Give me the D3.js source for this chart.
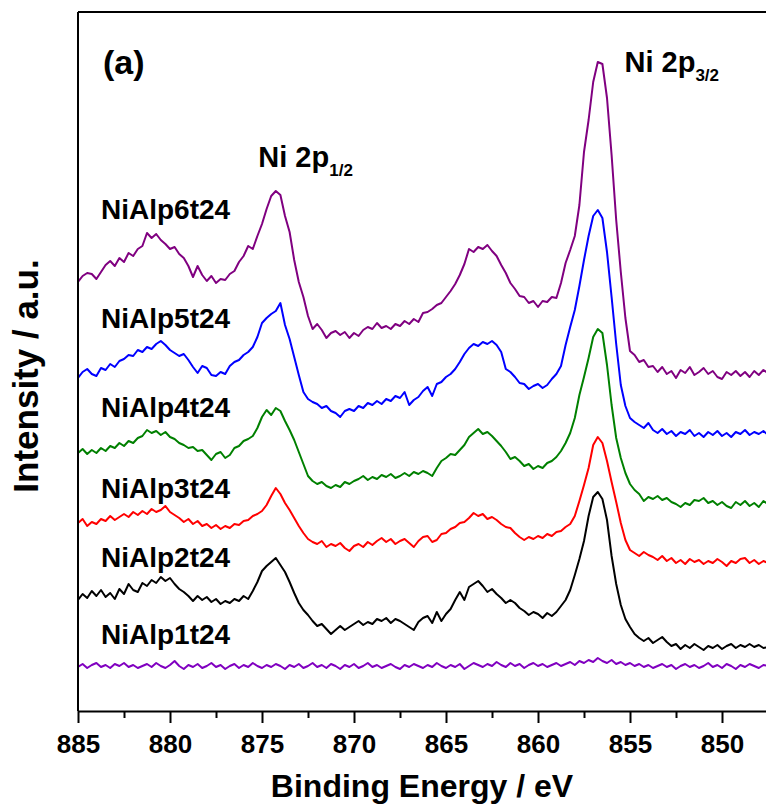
<!DOCTYPE html>
<html>
<head>
<meta charset="utf-8">
<script src="https://cdn.jsdelivr.net/npm/d3@7"></script>
<style>
  html, body { margin: 0; padding: 0; background: #fff; }
  svg { display: block; font-family: "Liberation Sans", Arial, sans-serif; }
</style>
</head>
<body>
<svg id="chart" width="766" height="807"></svg>
<script>
// ---- Data (Binding energy grid: 885 eV down to 847.5 eV, step 0.25 eV) ----
const energyStart = 885;
const energyStep = 0.25;

const seriesNames = ["NiAlp6t24", "NiAlp5t24", "NiAlp4t24", "NiAlp3t24", "NiAlp2t24", "NiAlp1t24"];
const seriesColors = ["#800080", "#0000ff", "#008000", "#ff0000", "#000000", "#8000c0"];

const p6 = [
  42.9,43.5,43.8,43.7,43.2,43.9,44.6,45.0,44.5,45.3,
  44.9,45.8,45.5,46.2,46.5,47.8,47.3,47.7,47.1,46.7,
  46.2,46.4,45.7,45.3,44.5,43.4,44.5,43.6,43.0,43.5,
  42.8,43.2,43.1,43.7,44.0,44.9,45.5,46.5,46.2,47.5,
  48.7,50.2,51.5,52.0,51.6,49.5,47.9,45.1,42.9,41.4,
  39.5,38.2,38.7,38.1,37.3,37.8,38.0,37.6,37.9,37.3,
  37.8,37.5,38.1,38.4,38.2,38.8,38.3,38.5,38.2,38.7,
  38.5,39.0,38.7,39.2,38.9,39.8,39.9,40.2,40.6,40.8,
  41.4,42.0,42.7,43.6,44.7,46.2,45.9,46.4,46.2,46.6,
  46.0,45.5,44.6,43.8,42.8,42.2,41.5,41.4,40.8,41.0,
  40.4,41.0,40.9,41.4,41.3,42.8,44.8,46.1,47.5,50.6,
  55.9,59.1,62.9,64.9,64.7,61.3,55.6,49.1,43.9,39.3,
  36.0,35.6,34.9,35.1,34.4,34.5,33.9,34.4,33.7,34.0,
  33.3,34.1,33.8,34.4,33.6,33.9,34.3,33.7,34.0,33.4,
  33.2,33.9,33.6,34.0,33.5,33.9,33.4,34.0,33.6,34.1,
  33.8
];
const p5 = [
  33.3,33.9,34.2,33.7,33.5,34.3,34.1,34.7,34.4,35.0,
  35.2,35.6,35.5,36.1,35.9,36.4,36.2,36.7,37.0,36.6,
  36.1,35.8,35.5,35.7,35.1,34.4,33.8,34.5,34.3,33.6,
  33.5,33.9,33.7,34.5,34.9,35.1,35.6,35.9,36.4,37.4,
  38.8,39.3,39.7,40.0,40.8,38.6,37.2,35.4,33.6,31.9,
  31.2,30.9,30.7,30.3,30.5,30.0,29.8,29.4,30.0,30.2,
  30.0,30.5,30.3,30.8,30.6,31.0,30.7,31.2,31.0,31.5,
  31.3,31.9,30.6,31.1,31.4,32.0,32.4,31.5,32.7,32.9,
  33.4,33.7,34.2,34.9,35.7,36.3,36.7,36.5,36.9,36.7,
  37.0,36.6,35.9,34.2,33.9,33.4,32.8,32.7,32.2,32.5,
  32.7,32.3,32.6,33.2,33.7,34.5,36.6,38.4,40.1,42.5,
  45.1,47.5,49.5,50.1,49.3,45.9,41.4,36.7,32.6,30.5,
  29.3,28.9,28.6,28.3,28.8,28.1,27.8,28.2,27.7,28.0,
  27.5,27.9,27.7,28.1,27.5,27.8,27.4,27.9,27.6,28.0,
  27.5,27.8,27.4,27.9,27.7,28.1,27.6,27.9,27.7,28.0,
  27.6
];
const p4 = [
  25.8,26.2,25.7,26.1,25.8,26.3,26.0,26.5,26.3,26.8,
  26.5,27.0,26.8,27.3,27.5,28.1,27.8,28.0,27.6,27.9,
  27.4,27.2,26.8,26.6,26.3,26.4,26.0,26.1,25.6,25.1,
  25.7,25.9,25.3,25.6,26.3,26.5,27.0,27.2,27.5,28.3,
  29.4,30.1,29.6,30.3,30.0,29.0,28.1,27.1,25.9,24.7,
  23.5,23.0,22.7,22.9,22.5,22.3,22.6,22.4,22.9,22.7,
  23.0,23.2,23.5,23.1,23.4,23.2,23.6,23.4,23.7,23.3,
  23.5,23.8,23.5,23.9,23.7,24.0,23.8,23.5,24.3,25.0,
  25.3,25.7,25.6,26.1,26.6,27.4,27.8,28.2,27.7,27.9,
  27.5,27.0,26.5,25.9,25.2,25.4,25.0,24.5,24.7,24.2,
  24.5,24.3,24.8,25.0,25.4,26.0,26.8,27.8,29.3,31.6,
  33.4,35.3,37.4,38.2,37.8,34.6,30.6,27.3,25.3,23.8,
  22.7,22.1,21.7,21.0,21.4,21.2,21.5,21.1,21.3,20.9,
  20.7,20.4,20.8,20.6,21.1,21.0,21.3,20.8,21.0,20.6,
  20.9,20.5,20.3,20.9,20.6,21.0,20.5,20.8,20.4,21.0,
  20.7
];
const p3 = [
  18.8,19.2,18.5,18.9,18.7,19.2,19.0,19.5,19.1,19.4,
  19.7,19.4,19.9,19.6,20.0,19.7,20.2,19.9,20.1,20.5,
  19.9,19.6,19.3,18.9,19.2,18.7,19.0,18.5,18.7,18.3,
  18.6,18.2,18.5,18.3,18.7,18.6,19.0,19.1,19.5,19.7,
  20.0,20.6,21.5,22.3,21.7,20.8,20.1,19.3,18.5,17.8,
  17.2,16.9,16.7,17.0,16.4,16.7,16.5,16.8,16.3,16.0,
  16.5,16.7,16.4,16.9,16.6,17.0,17.3,16.9,17.2,16.7,
  17.0,17.2,16.8,16.4,17.0,17.4,17.5,16.9,17.1,17.7,
  17.8,18.2,18.4,18.8,18.9,19.3,19.8,19.5,19.7,19.2,
  19.4,19.1,18.7,18.4,18.3,17.8,17.4,17.1,17.4,17.2,
  17.5,17.3,17.7,17.5,17.9,18.0,18.4,18.7,19.5,21.0,
  22.6,24.3,26.6,27.4,26.8,25.0,22.9,20.9,18.8,17.1,
  16.1,15.8,15.5,15.9,15.6,15.4,15.1,15.5,15.0,15.3,
  14.8,15.1,14.7,15.2,14.9,15.1,14.7,15.0,14.8,15.2,
  14.9,14.5,15.0,14.8,15.2,15.3,14.8,15.1,14.7,15.0,
  14.8
];
const p2 = [
  11.1,11.7,11.3,12.0,11.5,12.1,11.4,11.8,11.2,12.2,
  11.7,12.7,12.1,11.9,12.8,12.5,13.1,12.8,13.4,13.0,
  13.3,12.7,12.2,11.9,11.5,11.0,11.5,11.1,11.4,10.9,
  11.2,10.7,11.0,10.8,11.2,11.0,11.5,11.2,12.0,12.9,
  14.0,14.5,14.9,15.3,14.6,13.9,12.9,11.8,10.8,10.1,
  9.6,9.0,8.5,8.7,8.2,7.7,8.1,8.5,8.1,8.4,
  8.7,9.0,8.6,8.9,8.7,9.2,9.0,9.3,8.8,9.2,
  9.0,8.7,8.4,8.1,8.9,9.3,9.5,8.8,9.9,9.0,
  9.7,10.2,11.1,11.9,11.1,12.4,12.7,13.0,12.5,11.9,
  12.2,11.7,11.3,10.8,11.1,10.8,10.3,10.0,9.6,9.9,
  9.7,9.3,9.8,9.5,9.9,10.5,11.1,12.1,13.6,15.2,
  17.0,19.5,21.4,21.9,21.2,19.1,15.5,12.7,10.6,9.2,
  8.4,7.7,7.3,7.0,7.3,6.8,7.1,7.4,6.9,6.5,
  6.7,6.2,6.6,6.3,6.7,6.4,6.1,6.5,6.3,6.6,
  6.2,6.5,6.7,6.3,6.6,6.4,6.7,6.4,6.6,6.3,
  6.4
];
const p1 = [
  4.4,4.7,4.3,4.6,4.8,4.4,4.6,4.3,4.7,4.5,
  4.8,4.4,4.6,4.3,4.5,4.7,4.4,4.8,4.5,4.3,
  4.6,5.0,4.5,4.2,4.6,4.4,4.7,4.3,4.5,4.8,
  4.4,4.6,4.2,4.5,4.7,4.3,4.6,4.4,4.8,4.5,
  4.3,4.6,4.4,4.7,4.5,4.2,4.6,4.4,4.7,4.3,
  4.5,4.8,4.4,4.6,4.3,4.7,4.5,4.2,4.6,4.4,
  4.7,4.3,4.5,4.8,4.4,4.6,4.3,4.5,4.7,4.4,
  4.2,4.6,4.4,4.7,4.5,4.3,4.6,4.4,4.8,4.5,
  4.3,4.6,4.4,4.7,4.2,4.5,4.8,4.6,4.4,4.7,
  4.5,4.9,4.6,4.4,4.8,4.5,4.7,4.3,4.6,4.8,
  4.5,4.7,4.4,4.6,4.8,4.5,4.7,4.9,4.6,5.0,
  4.8,5.1,4.9,5.3,5.0,4.8,5.1,4.7,4.9,4.6,
  4.8,4.5,4.7,4.4,4.6,4.3,4.5,4.7,4.4,4.6,
  4.2,4.5,4.7,4.4,4.6,4.3,4.5,4.8,4.4,4.6,
  4.3,4.7,4.5,4.2,4.6,4.4,4.7,4.5,4.3,4.6,
  4.5
];
const seriesValues = [p6, p5, p4, p3, p2, p1];

const majorTicks = [885, 880, 875, 870, 865, 860, 855, 850];
const minorTicks = [882.5, 877.5, 872.5, 867.5, 862.5, 857.5, 852.5, 847.5];

// label anchors in data units (energy, intensity)
const labelEnergy = 883.75;
const labelIntensity = [49.2, 38.3, 29.4, 21.3, 14.4, 6.7];

// ---- Chart ----
(function () {
const svg = d3.select("#chart");
const mL = 78, mR = 768, mT = 12, mB = 711;

const x = d3.scaleLinear().domain([885, 847.5]).range([mL, mR]);
const y = d3.scaleLinear().domain([0, 69.9]).range([mB, mT]);

svg.append("defs").append("clipPath").attr("id", "plotclip")
  .append("rect").attr("x", mL).attr("y", mT).attr("width", mR - mL).attr("height", mB - mT);

const line = d3.line()
  .x((d, i) => x(energyStart - i * energyStep))
  .y(d => y(d));

const g = svg.append("g").attr("clip-path", "url(#plotclip)");
seriesValues.forEach((vals, k) => {
  g.append("path")
    .datum(vals)
    .attr("d", line)
    .attr("fill", "none")
    .attr("stroke", seriesColors[k])
    .attr("stroke-width", 2)
    .attr("stroke-linejoin", "round");
});

// frame: top and left lines
svg.append("line").attr("x1", mL).attr("x2", mR).attr("y1", mT).attr("y2", mT)
  .attr("stroke", "#000").attr("stroke-width", 2);
svg.append("line").attr("x1", mL).attr("x2", mL).attr("y1", mT).attr("y2", mB)
  .attr("stroke", "#000").attr("stroke-width", 2);

// bottom axis
const axisMajor = d3.axisBottom(x).tickValues(majorTicks).tickSize(12).tickSizeOuter(0)
  .tickFormat(d3.format("d"));
const gx = svg.append("g").attr("transform", `translate(0,${mB})`).call(axisMajor);
gx.select(".domain").attr("stroke-width", 2);
gx.selectAll(".tick line").attr("stroke-width", 2);
gx.selectAll(".tick text")
  .attr("font-size", 26).attr("font-weight", "bold").attr("fill", "#000")
  .attr("dy", null).attr("y", 42)
  .attr("font-family", "Liberation Sans, Arial, sans-serif");

const axisMinor = d3.axisBottom(x).tickValues(minorTicks).tickSize(7).tickFormat("");
const gm = svg.append("g").attr("transform", `translate(0,${mB})`).call(axisMinor);
gm.select(".domain").remove();
gm.selectAll(".tick line").attr("stroke-width", 2);

// axis titles
svg.append("text")
  .attr("x", (mL + 766) / 2).attr("y", 797)
  .attr("text-anchor", "middle")
  .attr("font-size", 32).attr("font-weight", "bold")
  .text("Binding Energy / eV");

svg.append("text")
  .attr("transform", "translate(38,376) rotate(-90)")
  .attr("text-anchor", "middle")
  .attr("font-size", 35).attr("font-weight", "bold")
  .text("Intensity / a.u.");

// sample labels
seriesNames.forEach((name, k) => {
  svg.append("text")
    .attr("x", x(labelEnergy)).attr("y", y(labelIntensity[k]))
    .attr("font-size", 28).attr("font-weight", "bold")
    .text(name);
});

// panel label
svg.append("text").attr("x", 103).attr("y", 74)
  .attr("font-size", 34).attr("font-weight", "bold").text("(a)");

// peak labels
function peakLabel(px, py, sub) {
  const t = svg.append("text").attr("x", px).attr("y", py)
    .attr("font-size", 29).attr("font-weight", "bold");
  t.append("tspan").text("Ni 2p");
  t.append("tspan").attr("font-size", 17).attr("dy", 9).text(sub);
}
peakLabel(x(875.2), 167, "1/2");
peakLabel(x(855.3), 72, "3/2");
})();
</script>
</body>
</html>
